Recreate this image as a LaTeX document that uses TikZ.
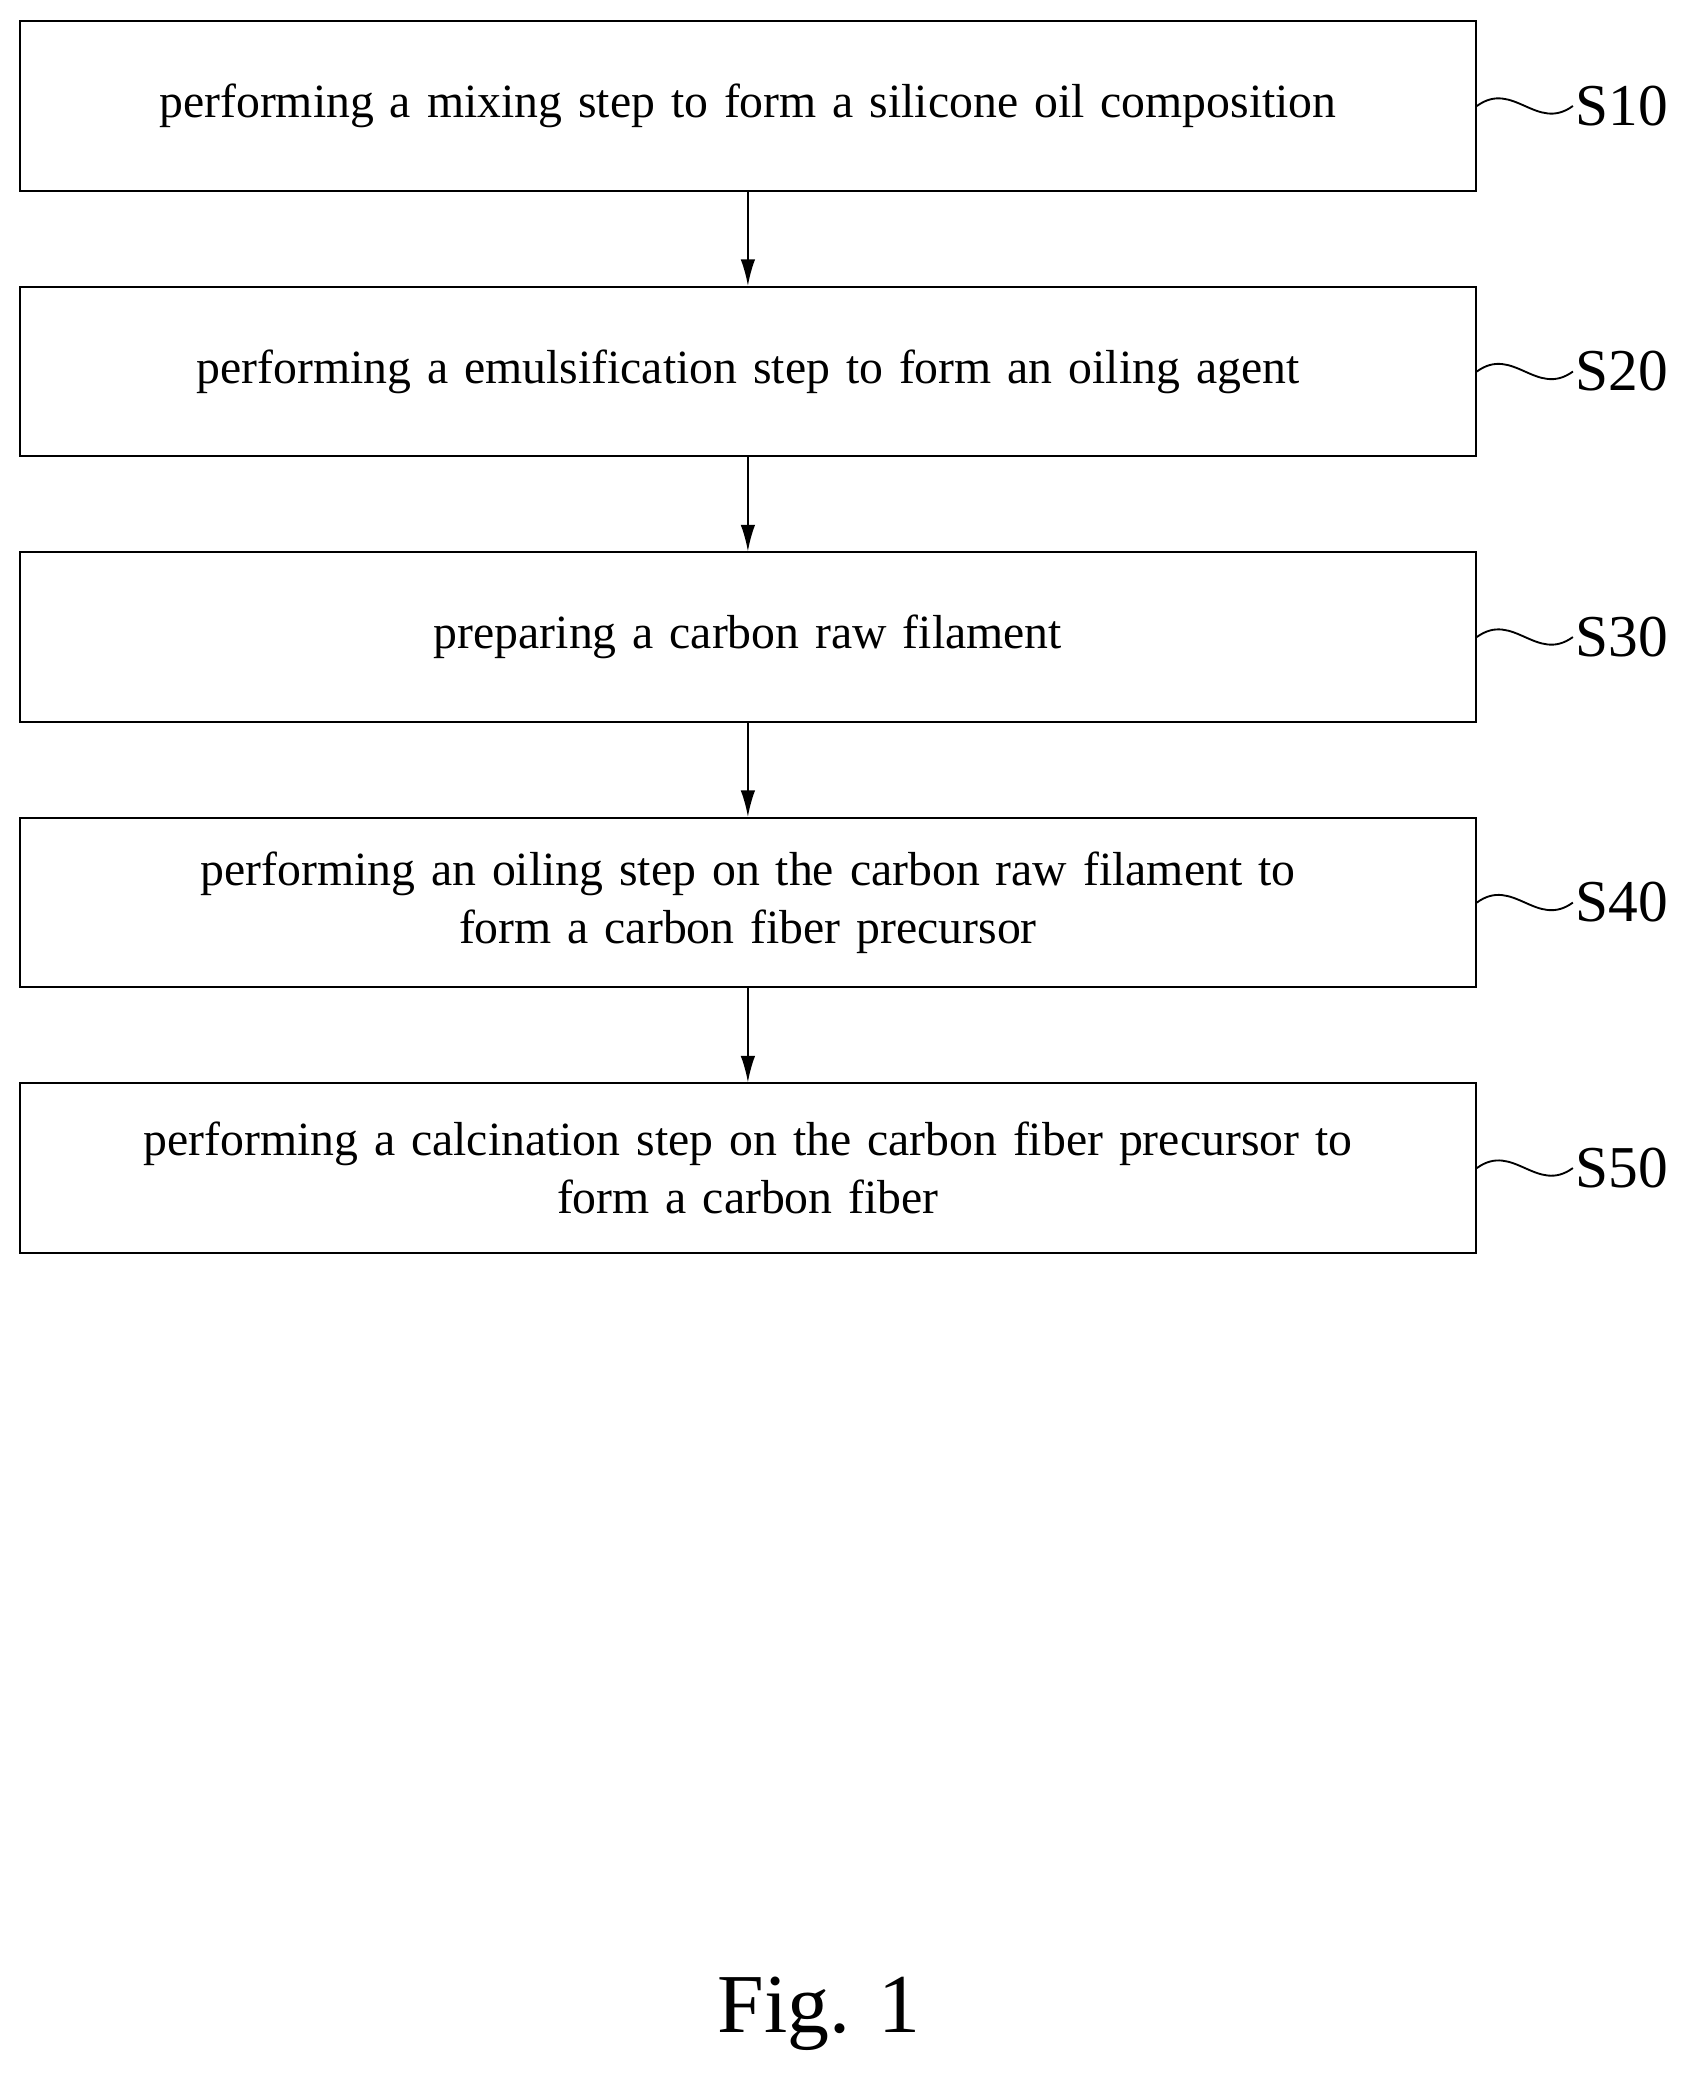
\documentclass[tikz,border=0pt]{standalone}
\usepackage{fontspec}
\setmainfont{Liberation Serif}
\usetikzlibrary{arrows.meta, positioning}

\begin{document}
\begin{tikzpicture}[
        node distance=1.42cm,
        font=\fontsize{20.5}{25}\selectfont,
        step box/.style={draw=black, thick, rectangle, minimum width=21.98cm, minimum height=2.56cm, align=center, text width=21cm},
        step label/.style={anchor=west, inner sep=1pt, font=\fontsize{25.5}{30}\selectfont},
        flow arrow/.style={-{Latex[length=0.4cm, width=0.22cm]}, thick},
        wave line/.style={thick}
    ]
    \useasboundingbox (0,0) rectangle (25.6,-31.58);

    % Steps
    \node[step box] (s10) at (11.29,-1.6) {performing a mixing step to form a silicone oil composition};
    \node[step box, below=of s10] (s20) {performing a emulsification step to form an oiling agent};
    \node[step box, below=of s20] (s30) {preparing a carbon raw filament};
    \node[step box, below=of s30] (s40) {performing an oiling step on the carbon raw filament to\\ form a carbon fiber precursor};
    \node[step box, below=of s40] (s50) {performing a calcination step on the carbon fiber precursor to\\ form a carbon fiber};

    % Step labels
    \foreach \s in {10,20,30,40,50} {
        \node[step label, right=1.45cm of s\s.east] (l\s) {S\s};
        \draw[wave line] (s\s.east) .. controls +(0.55,0.4) and +(-0.55,-0.4) .. (l\s.west);
    }

    % Arrows
    \draw[flow arrow] (s10) -- (s20);
    \draw[flow arrow] (s20) -- (s30);
    \draw[flow arrow] (s30) -- (s40);
    \draw[flow arrow] (s40) -- (s50);

    \node[font=\fontsize{36}{40}\selectfont] (fig) at (12.36,-30.4) {Fig. 1};
\end{tikzpicture}
\end{document}
